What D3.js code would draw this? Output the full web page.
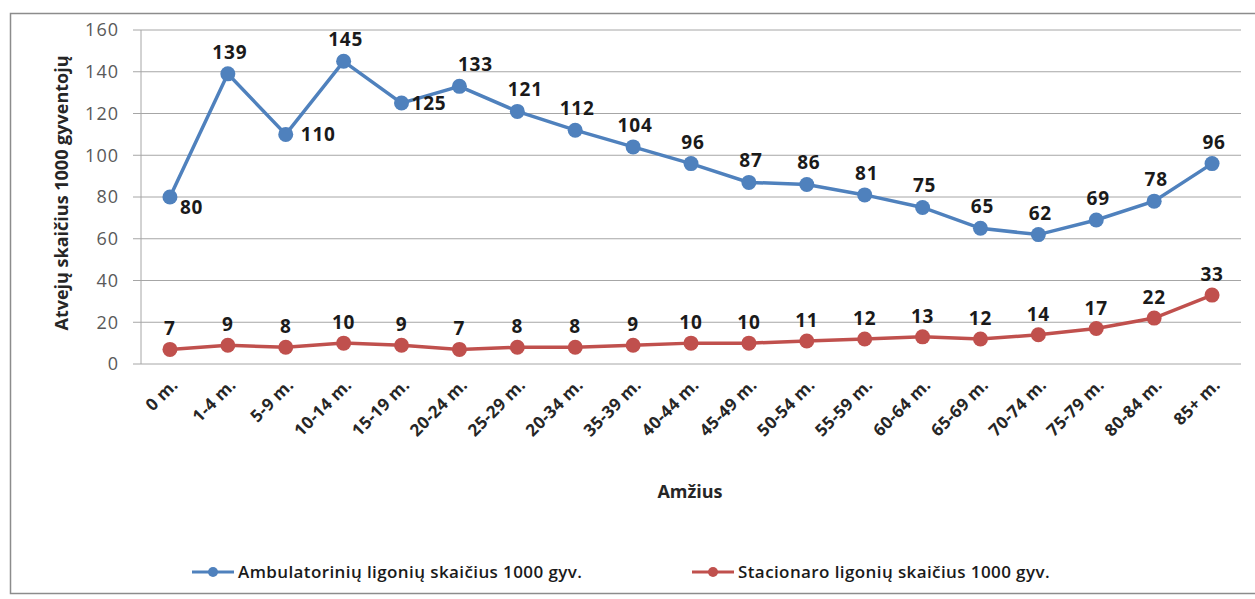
<!DOCTYPE html>
<html>
<head>
<meta charset="utf-8">
<script src="https://cdn.jsdelivr.net/npm/d3@7"></script>
<style>
  body { margin: 0; background: #fff; }
  text { font-family: "Open Sans", Lato, sans-serif; }
</style>
</head>
<body>
<div id="chart-container"></div>
<script>
// Age groups (x axis)
const ageGroups = ["0 m.", "1-4 m.", "5-9 m.", "10-14 m.", "15-19 m.", "20-24 m.", "25-29 m.",
  "20-34 m.", "35-39 m.", "40-44 m.", "45-49 m.", "50-54 m.", "55-59 m.", "60-64 m.",
  "65-69 m.", "70-74 m.", "75-79 m.", "80-84 m.", "85+ m."];

// Outpatients per 1000 residents
const ambulatoriniai = [80, 139, 110, 145, 125, 133, 121, 112, 104, 96, 87, 86, 81, 75, 65, 62, 69, 78, 96];
// Inpatients per 1000 residents
const stacionaro = [7, 9, 8, 10, 9, 7, 8, 8, 9, 10, 10, 11, 12, 13, 12, 14, 17, 22, 33];

const yTicks = [0, 20, 40, 60, 80, 100, 120, 140, 160];

const seriesNames = ["Ambulatorinių ligonių skaičius 1000 gyv.", "Stacionaro ligonių skaičius 1000 gyv."];
const seriesColors = ["#4F81BD", "#C0504D"];

// label placement for the blue series ("r" = right, "t" = top)
const blueLabelPos = ["rb", "t", "r", "t", "r", "tr", "t", "t", "t", "t", "t", "t", "t", "t", "t", "t", "t", "t", "t"];

const width = 1255, height = 599;
const svg = d3.select("#chart-container").append("svg")
  .attr("width", width)
  .attr("height", height);

// outer chart border
svg.append("rect")
  .attr("x", 10.5).attr("y", 13.5)
  .attr("width", 1250).attr("height", 580)
  .attr("fill", "#fff")
  .attr("stroke", "#8c8c8c")
  .attr("stroke-width", 1.5);

const plot = { left: 141, right: 1241, top: 30, bottom: 364 };

const xScale = d3.scaleBand()
  .domain(ageGroups)
  .range([plot.left, plot.right]);

const yScale = d3.scaleLinear()
  .domain([0, 160])
  .range([plot.bottom, plot.top]);

// gridlines
svg.append("g")
  .selectAll("line")
  .data(yTicks)
  .enter().append("line")
  .attr("x1", plot.left - 8)
  .attr("x2", plot.right)
  .attr("y1", d => yScale(d))
  .attr("y2", d => yScale(d))
  .attr("stroke", "#a6a6a6")
  .attr("stroke-width", 1);

// y axis line
svg.append("line")
  .attr("x1", plot.left).attr("x2", plot.left)
  .attr("y1", plot.top).attr("y2", plot.bottom)
  .attr("stroke", "#a6a6a6");

// y axis
const yAxis = d3.axisLeft(yScale).tickValues(yTicks).tickSize(0).tickPadding(22);
const yG = svg.append("g")
  .attr("transform", `translate(${plot.left},0)`)
  .call(yAxis);
yG.select(".domain").remove();
yG.selectAll("text")
  .attr("font-size", "18px")
  .attr("letter-spacing", "1px")
  .attr("fill", "#595959")
  .attr("font-family", "'Open Sans', sans-serif");

// x axis
const xAxis = d3.axisBottom(xScale).tickSize(0).tickPadding(0);
const xG = svg.append("g")
  .attr("transform", `translate(0,${plot.bottom})`)
  .call(xAxis);
xG.select(".domain").remove();
xG.selectAll("text")
  .attr("font-size", "17px")
  .attr("font-weight", "bold")
  .attr("letter-spacing", "0.3px")
  .attr("fill", "#262626")
  .attr("font-family", "'Open Sans', sans-serif")
  .attr("text-anchor", "end")
  .attr("dy", null)
  .attr("y", 0)
  .attr("transform", "translate(9,22) rotate(-45)");

// axis titles
svg.append("text")
  .attr("x", 690).attr("y", 498)
  .attr("text-anchor", "middle")
  .attr("font-size", "18px")
  .attr("font-weight", "bold")
  .attr("fill", "#262626")
  .text("Amžius");

svg.append("text")
  .attr("transform", "rotate(-90)")
  .attr("x", -193).attr("y", 68)
  .attr("text-anchor", "middle")
  .attr("font-size", "18px")
  .attr("font-weight", "bold")
  .attr("fill", "#262626")
  .text("Atvejų skaičius 1000 gyventojų");

const cx = d => xScale(d) + xScale.bandwidth() / 2;

function drawSeries(values, color) {
  const line = d3.line()
    .x((d, i) => cx(ageGroups[i]))
    .y(d => yScale(d));
  svg.append("path")
    .datum(values)
    .attr("d", line)
    .attr("fill", "none")
    .attr("stroke", color)
    .attr("stroke-width", 3.5);
  svg.append("g")
    .selectAll("circle")
    .data(values)
    .enter().append("circle")
    .attr("cx", (d, i) => cx(ageGroups[i]))
    .attr("cy", d => yScale(d))
    .attr("r", 7.5)
    .attr("fill", color);
}

drawSeries(ambulatoriniai, seriesColors[0]);
drawSeries(stacionaro, seriesColors[1]);

// data labels
svg.append("g")
  .selectAll("text")
  .data(ambulatoriniai)
  .enter().append("text")
  .attr("x", (d, i) => {
    const p = blueLabelPos[i];
    const x = cx(ageGroups[i]);
    if (p === "rb") return x + 10;
    if (p === "r") return x + (i === 2 ? 15 : 10);
    if (p === "tr") return x + 16;
    return x + (i === 6 ? 8 : 2);
  })
  .attr("y", (d, i) => {
    const p = blueLabelPos[i];
    const y = yScale(d);
    return p === "rb" ? y + 17 : (p === "r" ? y + 7 : y - 15);
  })
  .attr("text-anchor", (d, i) => blueLabelPos[i] === "r" || blueLabelPos[i] === "rb" ? "start" : "middle")
  .attr("font-size", "19px")
  .attr("font-weight", "bold")
  .attr("letter-spacing", "0.8px")
  .attr("fill", "#1a1a1a")
  .text(d => d);

svg.append("g")
  .selectAll("text")
  .data(stacionaro)
  .enter().append("text")
  .attr("x", (d, i) => cx(ageGroups[i]))
  .attr("y", d => yScale(d) - 14)
  .attr("text-anchor", "middle")
  .attr("font-size", "19px")
  .attr("font-weight", "bold")
  .attr("letter-spacing", "0.8px")
  .attr("fill", "#1a1a1a")
  .text(d => d);

// legend
const legendX = [192, 692];
seriesNames.forEach((name, i) => {
  const g = svg.append("g").attr("transform", `translate(${legendX[i]},572)`);
  g.append("line")
    .attr("x1", 0).attr("x2", 42)
    .attr("stroke", seriesColors[i])
    .attr("stroke-width", 3);
  g.append("circle")
    .attr("cx", 21).attr("r", 5)
    .attr("fill", seriesColors[i]);
  g.append("text")
    .attr("x", 46).attr("y", 6)
    .attr("font-size", "17px")
    .attr("font-weight", 600)
    .attr("letter-spacing", "0.4px")
    .attr("fill", "#1a1a1a")
    .text(name);
});
</script>
</body>
</html>
